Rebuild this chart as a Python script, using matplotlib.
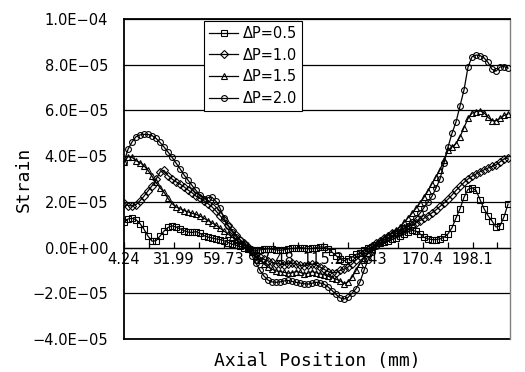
import numpy as np
import matplotlib
matplotlib.use("Agg")
import matplotlib.pyplot as plt
from matplotlib.ticker import FixedLocator, FuncFormatter

# ---------------- data (strain in units of 1e-5) ----------------
series_labels = ["\u0394P=0.5", "\u0394P=1.0", "\u0394P=1.5", "\u0394P=2.0"]
series_markers = ["s", "D", "^", "o"]

x_start_mm = 4.24
x_end_mm = 218.2
n_points = 97

strain_05 = [
    1.10, 1.25, 1.28, 1.22, 1.05, 0.80, 0.50, 0.28, 0.30, 0.50,
    0.72, 0.88, 0.95, 0.90, 0.82, 0.74, 0.68, 0.66, 0.70, 0.62,
    0.52, 0.46, 0.42, 0.38, 0.35, 0.30, 0.22, 0.15, 0.10, 0.05,
    0.00, -0.05, -0.10, -0.12, -0.10, -0.08, -0.05, -0.08, -0.10, -0.12,
    -0.10, -0.06, -0.04, -0.02, 0.00, -0.02, -0.05, -0.04, 0.00, 0.03,
    0.02, -0.05, -0.20, -0.35, -0.50, -0.58, -0.50, -0.42, -0.30, -0.22,
    -0.12, -0.04, 0.02, 0.10, 0.18, 0.24, 0.30, 0.36, 0.42, 0.50,
    0.58, 0.68, 0.75, 0.72, 0.60, 0.45, 0.38, 0.35, 0.35, 0.38,
    0.45, 0.60, 0.87, 1.30, 1.70, 2.20, 2.55, 2.62, 2.50, 2.10,
    1.70, 1.40, 1.16, 0.90, 0.95, 1.35, 1.90,
]

strain_10 = [
    1.96, 1.84, 1.82, 1.88, 2.05, 2.25, 2.48, 2.70, 2.98, 3.30,
    3.38, 3.15, 3.00, 2.88, 2.78, 2.66, 2.52, 2.40, 2.25, 2.15,
    2.05, 1.92, 1.78, 1.60, 1.40, 1.20, 0.98, 0.75, 0.55, 0.35,
    0.18, 0.02, -0.10, -0.28, -0.42, -0.52, -0.58, -0.65, -0.70, -0.72,
    -0.75, -0.70, -0.68, -0.72, -0.78, -0.80, -0.76, -0.72, -0.75, -0.85,
    -0.95, -1.05, -1.10, -1.10, -1.00, -0.95, -0.85, -0.72, -0.55, -0.38,
    -0.22, -0.08, 0.05, 0.18, 0.30, 0.42, 0.52, 0.62, 0.70, 0.78,
    0.85, 0.92, 1.00, 1.08, 1.18, 1.28, 1.40, 1.52, 1.65, 1.80,
    1.95, 2.12, 2.30, 2.50, 2.68, 2.85, 3.00, 3.12, 3.22, 3.32,
    3.40, 3.48, 3.55, 3.62, 3.75, 3.88, 3.92,
]

strain_15 = [
    3.74, 3.98, 3.95, 3.80, 3.72, 3.58, 3.38, 3.12, 2.85, 2.62,
    2.42, 2.15, 1.92, 1.78, 1.70, 1.62, 1.56, 1.50, 1.45, 1.38,
    1.28, 1.18, 1.08, 0.98, 0.85, 0.72, 0.60, 0.46, 0.34, 0.22,
    0.15, 0.00, -0.18, -0.36, -0.55, -0.72, -0.85, -0.95, -1.02, -1.05,
    -1.08, -1.12, -1.10, -1.05, -1.08, -1.15, -1.12, -1.05, -1.10, -1.15,
    -1.18, -1.25, -1.32, -1.38, -1.45, -1.58, -1.50, -1.30, -1.00, -0.70,
    -0.45, -0.22, -0.05, 0.12, 0.28, 0.42, 0.55, 0.65, 0.78, 0.92,
    1.10, 1.30, 1.50, 1.72, 1.95, 2.20, 2.48, 2.80, 3.10, 3.40,
    3.85, 4.25, 4.40, 4.55, 4.85, 5.25, 5.65, 5.88, 5.95, 5.98,
    5.90, 5.70, 5.55, 5.55, 5.65, 5.78, 5.85,
]

strain_20 = [
    3.75, 4.30, 4.62, 4.85, 4.93, 4.95, 4.95, 4.90, 4.78, 4.60,
    4.40, 4.18, 3.95, 3.70, 3.45, 3.18, 2.95, 2.72, 2.50, 2.30,
    2.12, 2.18, 2.20, 2.02, 1.72, 1.30, 0.95, 0.70, 0.48, 0.32,
    0.15, -0.02, -0.35, -0.68, -1.00, -1.25, -1.42, -1.50, -1.52, -1.50,
    -1.46, -1.44, -1.48, -1.52, -1.55, -1.58, -1.60, -1.56, -1.52, -1.55,
    -1.60, -1.72, -1.88, -2.05, -2.20, -2.25, -2.18, -2.00, -1.80, -1.50,
    -1.00, -0.55, -0.20, 0.05, 0.20, 0.32, 0.42, 0.52, 0.60, 0.70,
    0.80, 0.95, 1.10, 1.30, 1.50, 1.75, 2.00, 2.25, 2.60, 3.00,
    3.70, 4.40, 5.00, 5.50, 6.20, 6.90, 7.90, 8.35, 8.42, 8.40,
    8.30, 8.10, 7.80, 7.72, 7.90, 7.92, 7.85,
]
strain_scale = 1e-5

x_tick_labels = ["4.24", "31.99", "59.73", "87.48", "115.2", "143", "170.4", "198.1"]
x_label_step_mm = 27.74
y_ticks = [-4e-5, -2e-5, 0.0, 2e-5, 4e-5, 6e-5, 8e-5, 1e-4]

# ---------------- figure ----------------
fig = plt.figure(figsize=(5.25, 3.72), dpi=100)
ax = fig.add_axes([124 / 525, 33 / 372, 386 / 525, 320 / 372])

x = np.linspace(x_start_mm, x_end_mm, n_points)
all_series = [strain_05, strain_10, strain_15, strain_20]
for vals, lab, mk in zip(all_series, series_labels, series_markers):
    ms = 4.2 if mk != "D" else 3.6
    ax.plot(x, np.array(vals) * strain_scale, color="black", lw=0.9,
            marker=mk, ms=ms, mfc="none", mec="black", mew=0.8,
            label=lab, zorder=3)

ax.set_xlim(x_start_mm, 219.3)
ax.set_ylim(-4e-5, 1e-4)

# y axis
ax.yaxis.set_major_locator(FixedLocator(y_ticks))
ax.yaxis.set_major_formatter(FuncFormatter(
    lambda v, p: f"{v:.1E}".replace("-", "\u2212")))
ax.tick_params(axis="y", length=0, pad=11.5, labelsize=10.5)
ax.yaxis.grid(True, color="black", lw=0.9)
ax.set_axisbelow(True)

# x axis at zero (category-style labels)
major_pos = [x_start_mm + k * x_label_step_mm for k in range(len(x_tick_labels))]
minor_pos = [x_start_mm + k * x_label_step_mm / 2 for k in range(16)]
ax.set_xticks(major_pos)
ax.set_xticklabels(x_tick_labels)
ax.set_xticks(minor_pos, minor=True)
ax.tick_params(axis="x", which="both", direction="in", length=4.5,
               width=0.9, color="black", pad=3.5, labelsize=10.5)
ax.spines["bottom"].set_position(("data", 0))
ax.spines["bottom"].set_linewidth(0.9)
ax.spines["left"].set_linewidth(1.3)
ax.spines["top"].set_linewidth(1.3)
ax.spines["right"].set_color("#808080")
ax.spines["right"].set_linewidth(1.0)
ax.axhline(-4e-5, color="black", lw=1.3, clip_on=False, zorder=2)

ax.set_ylabel("Strain", family="DejaVu Sans Mono", fontsize=13)
ax.yaxis.set_label_coords(-0.236, 0.5)
ax.set_xlabel("Axial Position (mm)", family="DejaVu Sans Mono", fontsize=13)
ax.xaxis.set_label_coords(0.5, -0.04)

leg = ax.legend(loc="upper left", bbox_to_anchor=(0.207, 0.994),
                borderaxespad=0, fancybox=False, framealpha=1,
                edgecolor="black", fontsize=10.5, handlelength=2.0,
                handletextpad=0.3, labelspacing=0.45, borderpad=0.35,
                numpoints=1)
leg.get_frame().set_linewidth(0.8)
leg.set_zorder(5)

fig.savefig("out.png", dpi=100)
